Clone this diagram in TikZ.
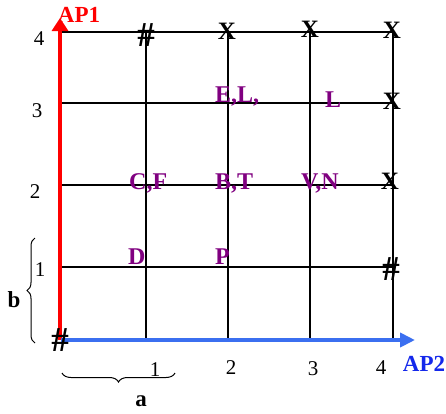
\documentclass[tikz,border=0pt]{standalone}
\usepackage{fontspec}
\setmainfont{Liberation Serif}
\usetikzlibrary{arrows.meta,decorations.pathreplacing}
\definecolor{apblue}{RGB}{59,111,240}
\definecolor{aptext}{RGB}{20,40,235}
\definecolor{lblpurple}{RGB}{128,0,128}
\begin{document}
\begin{tikzpicture}[x=1pt,y=-1pt,
  gridline/.style={line width=1.3pt, black},
  num/.style={inner sep=0, font=\fontsize{21}{21}\selectfont},
  lbl/.style={inner sep=0, font=\fontsize{23}{23}\selectfont\bfseries},
  pl/.style={inner sep=0, anchor=base west, text=lblpurple, font=\fontsize{24}{24}\selectfont\bfseries},
  xm/.style={inner sep=0, font=\fontsize{25}{25}\selectfont\bfseries},
  hm/.style={inner sep=0, font=\fontsize{35}{35}\selectfont\bfseries},
  bracestyle/.style={decorate, line width=1pt},
]
\useasboundingbox (0,0) rectangle (446,413);
% grid
\foreach \x in {146,228,310} \draw[gridline] (\x,32) -- (\x,340);
\draw[gridline, line width=2pt] (393,32) -- (393,340);
\foreach \y in {32,103,185,267} \draw[gridline] (60,\y) -- (393,\y);
% axes
\coordinate (O) at (60,340);
\coordinate (Ox) at (61,340);
\coordinate (Ytip) at (60,18);
\coordinate (Xtip) at (415,340);
\draw[red, line width=4pt, -{Triangle[length=13pt,width=16pt]}] (O) -- (Ytip);
\draw[apblue, line width=4pt, -{Triangle[length=15pt,width=14pt]}] (Ox) -- (Xtip);
% braces
\coordinate (bl1) at (35,343);
\coordinate (bl2) at (35,238);
\coordinate (bb1) at (175,373);
\coordinate (bb2) at (62,373);
\draw[bracestyle, decoration={brace, amplitude=8pt}] (bl1) -- (bl2);
\draw[bracestyle, decoration={brace, amplitude=9pt}] (bb1) -- (bb2);
% axis numbers
\node[num] (y4) at (39,39) {4};
\node[num] (y3) at (37,111) {3};
\node[num] (y2) at (35,192) {2};
\node[num] (y1) at (40,270) {1};
\node[num] (x1) at (155,370) {1};
\node[num] (x2) at (231,368) {2};
\node[num] (x3) at (313,369) {3};
\node[num] (x4) at (381,368) {4};
\node[lbl, text=red] (ap1) at (79,15) {AP1};
\node[lbl, text=aptext] (ap2) at (424,364) {AP2};
\node[lbl] (b) at (14,300) {b};
\node[lbl] (a) at (141,401) {a};
% purple labels
\node[pl] (cf) at (129,189) {C,F};
\node[pl] (bt) at (215,189) {B,T};
\node[pl] (vn) at (301,189) {V,N};
\node[pl] (d) at (128,264) {D};
\node[pl] (p) at (215,264) {P};
\node[pl] (el) at (215,102) {E,L,};
\node[pl] (l) at (325,107) {L};
% X marks
\node[xm] (x24) at (227,31) {X};
\node[xm] (x34) at (310,29) {X};
\node[xm] (x44) at (392,30) {X};
\node[xm] (x43) at (392,101) {X};
\node[xm] (x42) at (390,181) {X};
% hash marks
\node[hm] (h14) at (146,35) {\#};
\node[hm] (h41) at (391,269) {\#};
\node[hm] (h00) at (60,340) {\#};
\end{tikzpicture}
\end{document}
